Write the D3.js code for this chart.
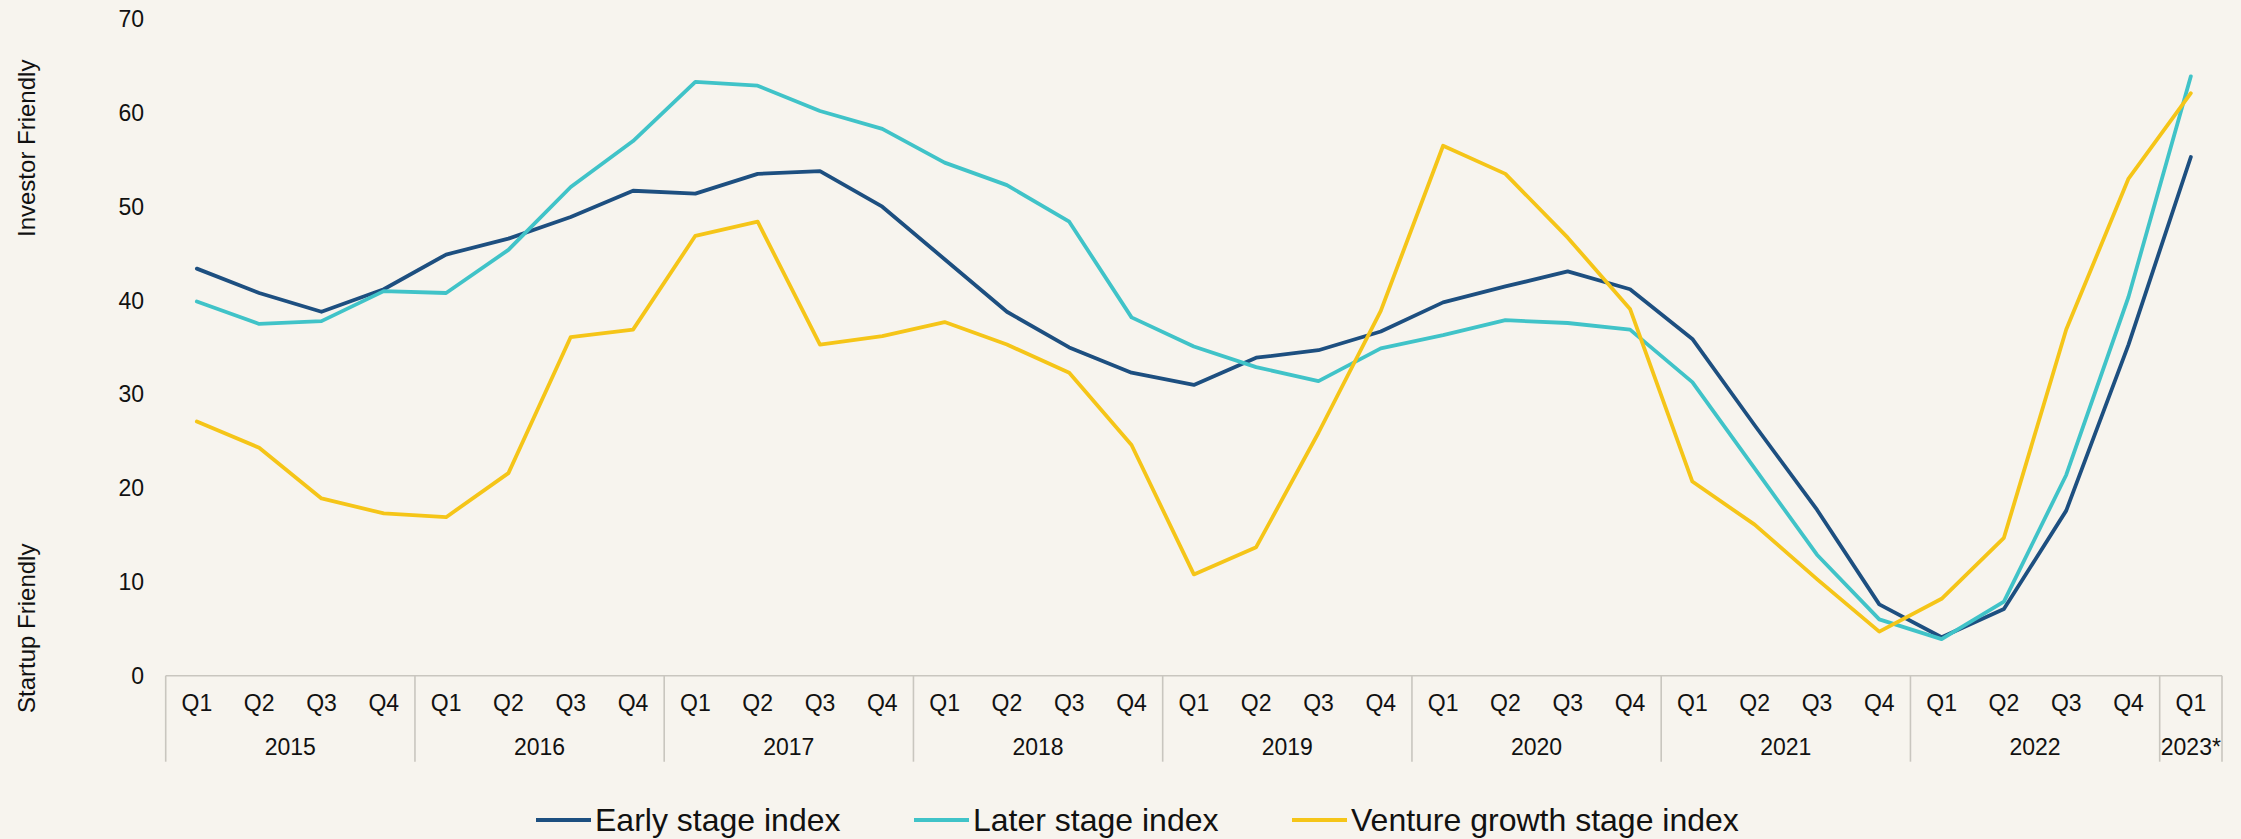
<!DOCTYPE html>
<html>
<head>
<meta charset="utf-8">
<script src="https://cdn.jsdelivr.net/npm/d3@7"></script>
<style>
    html, body { margin: 0; padding: 0; background: #f7f4ee; }
    svg { display: block; font-family: "Liberation Sans", Arial, sans-serif; }
</style>
</head>
<body>
<svg id="chart"></svg>
<script>
const years = ["2015", "2016", "2017", "2018", "2019", "2020", "2021", "2022", "2023*"];
const quartersPerYear = [4, 4, 4, 4, 4, 4, 4, 4, 1];
const quarterNames = ["Q1", "Q2", "Q3", "Q4"];
const yTicks = [0, 10, 20, 30, 40, 50, 60, 70];

const earlyStage = [43.4, 40.8, 38.8, 41.2, 44.9, 46.6, 48.9, 51.7, 51.4, 53.5, 53.8, 50.0,
    44.4, 38.8, 35.0, 32.3, 31.0, 33.9, 34.7, 36.7, 39.8, 41.5, 43.1, 41.2,
    35.9, 26.7, 17.7, 7.6, 4.1, 7.1, 17.6, 35.3, 55.3];
const laterStage = [39.9, 37.5, 37.8, 41.0, 40.8, 45.4, 52.1, 57.0, 63.3, 62.9, 60.2, 58.3,
    54.7, 52.3, 48.4, 38.2, 35.1, 32.9, 31.4, 34.9, 36.3, 37.9, 37.6, 36.9,
    31.3, 22.1, 12.9, 6.0, 3.9, 7.9, 21.4, 40.4, 63.9];
const ventureGrowth = [27.1, 24.3, 18.9, 17.3, 16.9, 21.6, 36.1, 36.9, 46.9, 48.4, 35.3, 36.2,
    37.7, 35.3, 32.3, 24.6, 10.8, 13.7, 25.9, 38.9, 56.5, 53.5, 46.7, 39.1,
    20.7, 16.1, 10.3, 4.7, 8.2, 14.7, 36.9, 53.0, 62.1];

const seriesNames = ["Early stage index", "Later stage index", "Venture growth stage index"];
const seriesColors = ["#1d4f80", "#40c3c8", "#f5c518"];
const seriesValues = [earlyStage, laterStage, ventureGrowth];

const width = 2241;
const height = 839;

// one entry per quarter, e.g. "2015-Q1"
const quarters = [];
years.forEach((yr, i) => {
    for (let q = 0; q < quartersPerYear[i]; q++) quarters.push({ year: yr, q: quarterNames[q], key: yr + "-" + quarterNames[q] });
});

const svg = d3.select("#chart")
    .attr("width", width)
    .attr("height", height);

svg.append("rect")
    .attr("width", width)
    .attr("height", height)
    .attr("fill", "#f7f4ee");

const x = d3.scaleBand()
    .domain(quarters.map(d => d.key))
    .range([165.7, 2222])
    .padding(0);

const y = d3.scaleLinear()
    .domain([0, 70])
    .range([675.7, 19.1]);

const axisY = y(0);
const sepBottom = 761.7;

// y tick labels (no axis line, no gridlines)
svg.append("g")
    .attr("font-size", 23)
    .attr("fill", "#111")
    .attr("text-anchor", "end")
    .selectAll("text")
    .data(yTicks)
    .join("text")
    .attr("x", 144)
    .attr("y", d => y(d))
    .attr("dy", "0.35em")
    .text(d => d);

// y axis titles
svg.append("text")
    .attr("transform", "translate(35,237) rotate(-90)")
    .attr("font-size", 24)
    .attr("fill", "#111")
    .text("Investor Friendly");

svg.append("text")
    .attr("transform", "translate(35,713) rotate(-90)")
    .attr("font-size", 24)
    .attr("fill", "#111")
    .text("Startup Friendly");

// x axis line
const xAxis = svg.append("g").attr("stroke", "#c9c6bf").attr("stroke-width", 1.6);

xAxis.append("line")
    .attr("x1", x.range()[0])
    .attr("x2", x.range()[1])
    .attr("y1", axisY)
    .attr("y2", axisY);

// year separators
const yearStarts = [];
let idx = 0;
years.forEach((yr, i) => {
    yearStarts.push({ year: yr, start: x(quarters[idx].key), end: x(quarters[idx + quartersPerYear[i] - 1].key) + x.bandwidth() });
    idx += quartersPerYear[i];
});

const sepXs = yearStarts.map(d => d.start).concat([x.range()[1]]);

xAxis.selectAll("line.sep")
    .data(sepXs)
    .join("line")
    .attr("class", "sep")
    .attr("x1", d => d)
    .attr("x2", d => d)
    .attr("y1", axisY)
    .attr("y2", sepBottom);

// quarter labels
svg.append("g")
    .attr("font-size", 23)
    .attr("fill", "#111")
    .attr("text-anchor", "middle")
    .selectAll("text")
    .data(quarters)
    .join("text")
    .attr("x", d => x(d.key) + x.bandwidth() / 2)
    .attr("y", 703)
    .attr("dy", "0.35em")
    .text(d => d.q);

// year labels
svg.append("g")
    .attr("font-size", 23)
    .attr("fill", "#111")
    .attr("text-anchor", "middle")
    .selectAll("text")
    .data(yearStarts)
    .join("text")
    .attr("x", d => (d.start + d.end) / 2)
    .attr("y", 747)
    .attr("dy", "0.35em")
    .text(d => d.year);

// lines
const line = d3.line()
    .x((d, i) => x(quarters[i].key) + x.bandwidth() / 2)
    .y(d => y(d));

svg.append("g")
    .attr("fill", "none")
    .attr("stroke-width", 3.8)
    .attr("stroke-linejoin", "round")
    .attr("stroke-linecap", "round")
    .selectAll("path")
    .data(seriesValues)
    .join("path")
    .attr("stroke", (d, i) => seriesColors[i])
    .attr("d", line);

// legend
const legendX = [536, 914, 1292];
const legend = svg.append("g")
    .selectAll("g")
    .data(seriesNames)
    .join("g")
    .attr("transform", (d, i) => `translate(${legendX[i]},820)`);

legend.append("line")
    .attr("x1", 0)
    .attr("x2", 55)
    .attr("stroke", (d, i) => seriesColors[i])
    .attr("stroke-width", 4);

legend.append("text")
    .attr("x", 59)
    .attr("dy", "0.35em")
    .attr("font-size", 32)
    .attr("fill", "#111")
    .text(d => d);
</script>
</body>
</html>
